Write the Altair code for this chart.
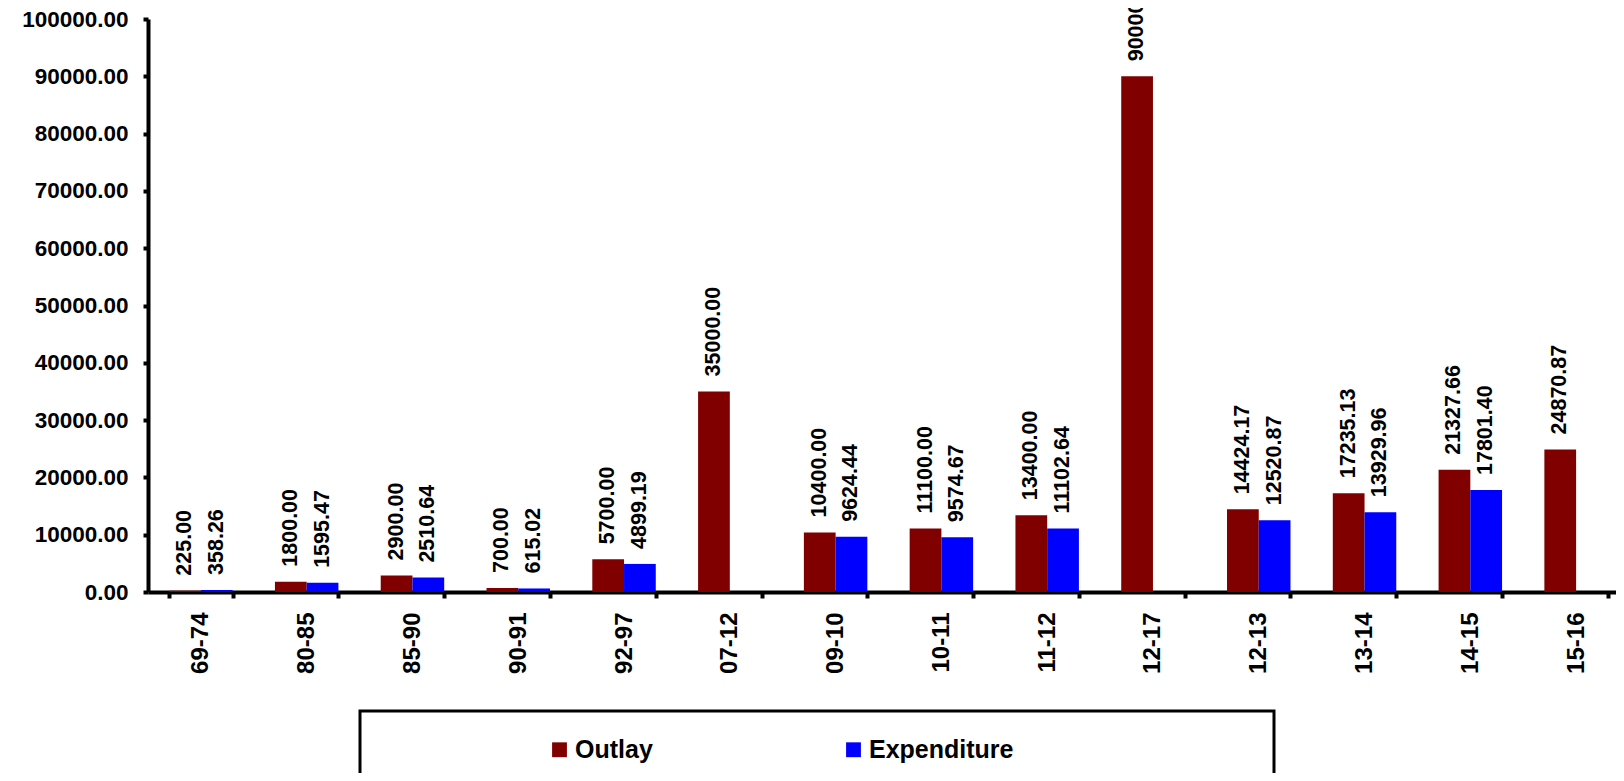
import altair as alt
import pandas as pd

periods = ["69-74", "80-85", "85-90", "90-91", "92-97", "07-12", "09-10",
           "10-11", "11-12", "12-17", "12-13", "13-14", "14-15", "15-16"]
outlay = [225.00, 1800.00, 2900.00, 700.00, 5700.00, 35000.00, 10400.00,
          11100.00, 13400.00, 90000.00, 14424.17, 17235.13, 21327.66, 24870.87]
expenditure = [358.26, 1595.47, 2510.64, 615.02, 4899.19, None, 9624.44,
               9574.67, 11102.64, None, 12520.87, 13929.96, 17801.40, None]
series_names = ["Outlay", "Expenditure"]
series_colors = ["#800000", "#0000FF"]
y_ticks = [0, 10000, 20000, 30000, 40000, 50000, 60000, 70000, 80000, 90000, 100000]

rows = []
for p, o, e in zip(periods, outlay, expenditure):
    rows.append({"period": p, "series": "Outlay", "value": o})
    if e is not None:
        rows.append({"period": p, "series": "Expenditure", "value": e})
df = pd.DataFrame(rows)

FONT = "Liberation Sans"

x_enc = alt.X(
    "period:N", sort=periods,
    scale=alt.Scale(paddingInner=0.4, paddingOuter=0.2, range=[0, 1481]),
    axis=alt.Axis(title=None, labelAngle=-90, labelFont=FONT, labelFontSize=24,
                  labelFontWeight="bold", labelColor="black", labelPadding=14,
                  tickBand="extent", tickSize=6, tickWidth=4, tickColor="black",
                  domainWidth=4, domainColor="black"),
)
y_enc = alt.Y(
    "value:Q", scale=alt.Scale(domain=[0, 100000], nice=False),
    axis=alt.Axis(title=None, values=y_ticks, format=".2f", labelFont=FONT,
                  labelFontSize=22.5, labelFontWeight="bold", labelColor="black",
                  labelPadding=15, tickSize=5, tickWidth=4, tickColor="black",
                  domainWidth=4, domainColor="black", grid=False),
)
xoff = alt.XOffset("series:N", sort=series_names, scale=alt.Scale(paddingInner=0, paddingOuter=0))

color_enc = alt.Color(
    "series:N", sort=series_names,
    scale=alt.Scale(domain=series_names, range=series_colors),
    legend=alt.Legend(orient="none", legendX=399, legendY=718, direction="horizontal",
                      title=None, symbolType="square", symbolSize=220,
                      symbolStrokeWidth=0, labelFont=FONT, labelFontSize=25,
                      labelFontWeight="bold", labelColor="black", labelOffset=3,
                      columnPadding=188, padding=0),
)

base = alt.Chart(df)
bars = base.mark_bar().encode(x=x_enc, y=y_enc, xOffset=xoff, color=color_enc)
labels = base.mark_text(angle=270, align="left", baseline="middle", dx=15,
                        font=FONT, fontSize=21.5, fontWeight="bold", color="black").encode(
    x=alt.X("period:N", sort=periods), y=alt.Y("value:Q"), xOffset=xoff,
    text=alt.Text("value:Q", format=".2f"),
)

box = alt.Chart(pd.DataFrame({"k": [0]})).mark_rect(filled=False, stroke="black", strokeWidth=3).encode(
    x=alt.value(212), x2=alt.value(1126), y=alt.value(692), y2=alt.value(830)
)

chart = alt.layer(bars, labels, box).properties(
    width=1460, height=573,
    autosize=alt.AutoSizeParams(type="none"),
    padding={"left": 140, "top": 11, "right": 8, "bottom": 181},
).configure_view(stroke=None)

chart.save("out.html", embed_options={"renderer": "svg", "actions": False})
